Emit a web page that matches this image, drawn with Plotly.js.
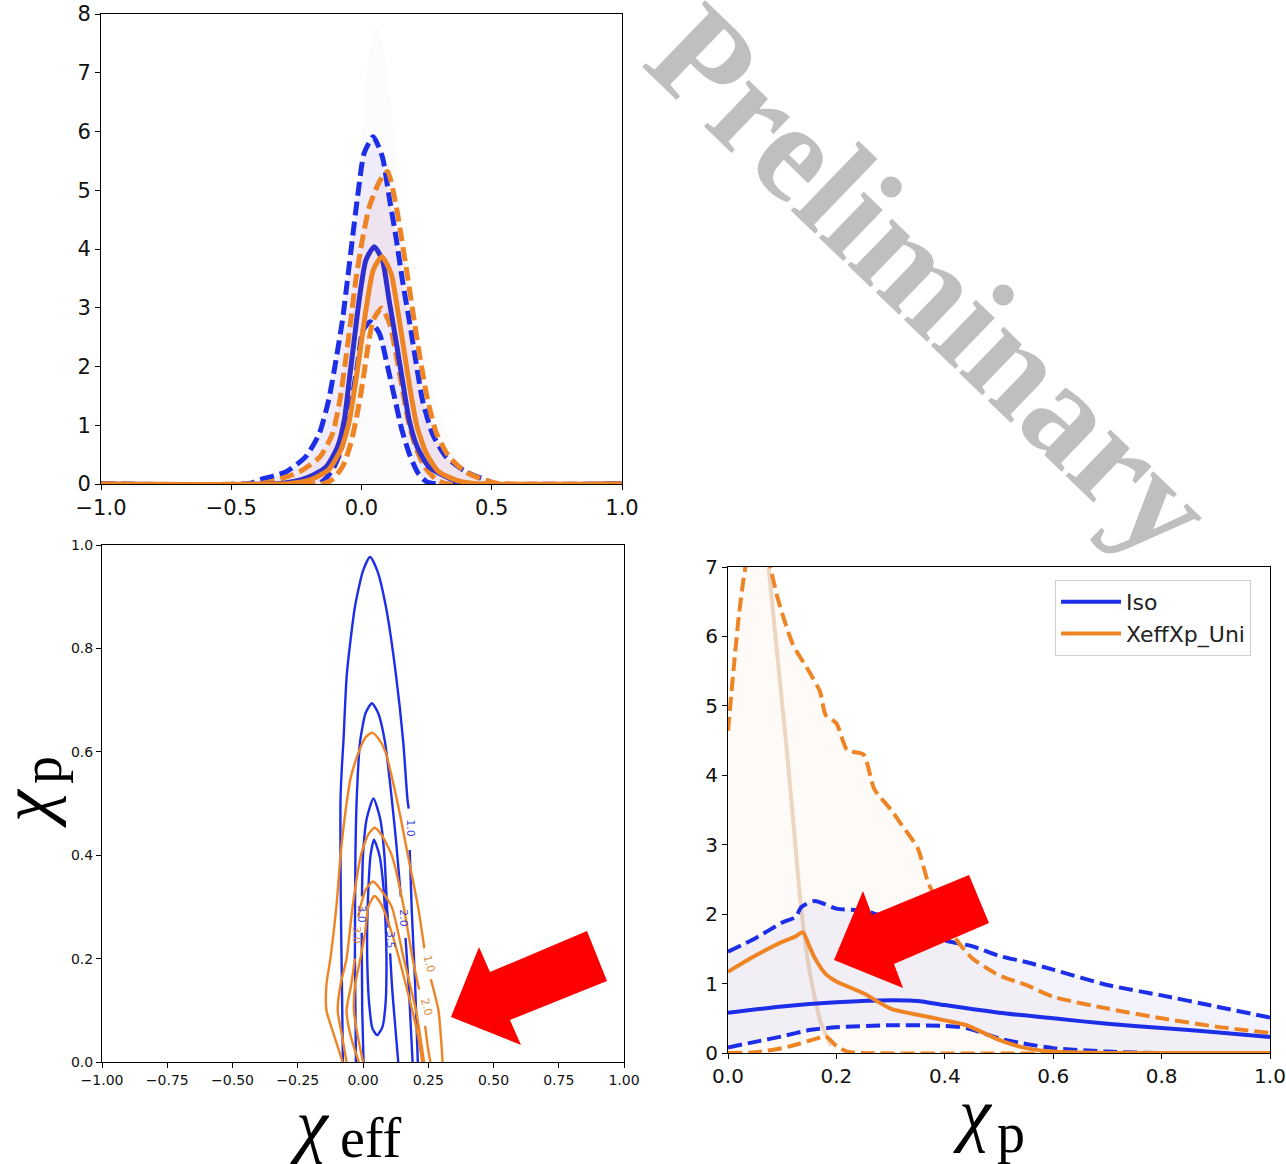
<!DOCTYPE html>
<html><head><meta charset="utf-8">
<script src="https://cdn.plot.ly/plotly-3.0.1.min.js"></script>
<style>html,body{margin:0;padding:0;background:#fff}#chart{width:1286px;height:1164px}</style>
</head><body><div id="chart"></div>
<script>
// ---------- Panel 1: chi_eff distributions ----------
const isoHiX = [-1, -0.43, -0.392, -0.289, -0.213, -0.162, -0.126, -0.098, -0.073, -0.054, -0.034, -0.015, 0.01, 0.045, 0.08, 0.106, 0.132, 0.157, 0.183, 0.208, 0.234, 0.272, 0.323, 0.40, 0.476, 0.51, 1];
const isoHiY = [0, 0.01, 0.07, 0.21, 0.47, 0.86, 1.43, 2.11, 2.79, 3.47, 4.21, 4.89, 5.63, 5.91, 5.57, 4.89, 4.21, 3.47, 2.79, 2.11, 1.43, 0.86, 0.47, 0.21, 0.07, 0.01, 0];
const isoMedX = [-1, -0.31, -0.213, -0.136, -0.092, -0.066, -0.047, -0.028, -0.009, 0.017, 0.049, 0.080, 0.106, 0.132, 0.157, 0.183, 0.214, 0.259, 0.336, 0.40, 1];
const isoMedY = [0, 0.01, 0.10, 0.29, 0.63, 1.09, 1.77, 2.45, 3.13, 3.81, 4.04, 3.81, 3.13, 2.45, 1.77, 1.09, 0.63, 0.29, 0.10, 0.01, 0];
const isoLoX = [-1, -0.166, -0.143, -0.111, -0.083, -0.056, -0.033, -0.013, 0.006, 0.034, 0.069, 0.10, 0.129, 0.155, 0.187, 0.218, 0.249, 0.273, 1];
const isoLoY = [0, 0.01, 0.07, 0.24, 0.52, 0.98, 1.54, 2.11, 2.62, 2.76, 2.56, 2.0, 1.43, 0.92, 0.47, 0.18, 0.04, 0.01, 0];
const uniMedX = [-1, -0.276, -0.197, -0.127, -0.08, -0.049, -0.025, -0.003, 0.019, 0.045, 0.078, 0.113, 0.139, 0.163, 0.187, 0.213, 0.249, 0.296, 0.367, 0.429, 1];
const uniMedY = [0, 0.01, 0.07, 0.24, 0.58, 1.03, 1.66, 2.34, 3.02, 3.64, 3.87, 3.59, 2.96, 2.28, 1.60, 0.98, 0.52, 0.21, 0.06, 0.01, 0];
const uniHiX = [-1, -0.386, -0.323, -0.237, -0.158, -0.111, -0.083, -0.061, -0.041, -0.022, 0.003, 0.03, 0.069, 0.10, 0.129, 0.155, 0.179, 0.202, 0.226, 0.254, 0.288, 0.335, 0.398, 0.476, 0.524, 1];
const uniHiY = [0, 0.01, 0.07, 0.21, 0.47, 0.86, 1.43, 2.11, 2.79, 3.47, 4.15, 4.72, 5.15, 5.32, 4.83, 4.15, 3.47, 2.79, 2.11, 1.43, 0.86, 0.47, 0.21, 0.06, 0.01, 0];
const uniLoX = [-1, -0.143, -0.111, -0.072, -0.041, -0.016, 0.006, 0.025, 0.045, 0.077, 0.108, 0.132, 0.155, 0.179, 0.207, 0.241, 0.281, 0.32, 1];
const uniLoY = [0, 0.01, 0.08, 0.30, 0.69, 1.20, 1.77, 2.34, 2.79, 2.99, 2.73, 2.22, 1.66, 1.09, 0.64, 0.30, 0.10, 0.01, 0];
// faint envelope of the posterior draws
const drawEnvX = [-0.5, -0.4, -0.3, -0.2, -0.1, -0.05, 0, 0.03, 0.06, 0.09, 0.12, 0.15, 0.2, 0.3, 0.4, 0.5];
const drawEnvY = [0, 0.1, 0.35, 0.8, 2.2, 4.0, 6.0, 7.3, 7.8, 7.3, 6.2, 4.8, 3.2, 1.2, 0.3, 0];

// ---------- Panel 2: 2D contours (chi_eff, chi_p) ----------
const isoC1X = [-0.077, -0.080, -0.085, -0.086, -0.081, -0.075, -0.062, -0.031, 0.0, 0.027, 0.055, 0.088, 0.126, 0.154, 0.170, 0.175, null, 0.179, 0.187, 0.199, 0.21];
const isoC1Y = [0, 0.12, 0.31, 0.51, 0.57, 0.62, 0.75, 0.88, 0.95, 0.977, 0.95, 0.88, 0.75, 0.62, 0.51, 0.49, null, 0.41, 0.29, 0.16, 0];
const isoC2X = [-0.027, -0.031, -0.029, -0.024, -0.011, 0.01, 0.034, 0.058, 0.084, 0.110, 0.128, 0.145, null, 0.163, 0.176, 0.19];
const isoC2Y = [0, 0.2, 0.4, 0.51, 0.62, 0.675, 0.694, 0.675, 0.62, 0.51, 0.42, 0.32, null, 0.24, 0.14, 0];
const isoC3X = [0.002, -0.003, -0.005, null, -0.004, 0.0, 0.014, 0.04, 0.066, 0.082, 0.092, 0.098, null, 0.104, 0.112, 0.125, 0.135];
const isoC3Y = [0, 0.1, 0.25, null, 0.32, 0.4, 0.47, 0.51, 0.47, 0.4, 0.3, 0.26, null, 0.21, 0.14, 0.06, 0];
const isoC4X = [0.042, 0.063, 0.078, 0.087, 0.09, 0.086, 0.074, 0.054, 0.036, 0.024, 0.017, 0.016, 0.021, 0.029, 0.042];
const isoC4Y = [0.43, 0.40, 0.34, 0.26, 0.18, 0.11, 0.067, 0.052, 0.065, 0.11, 0.18, 0.26, 0.34, 0.40, 0.43];
const uniC1X = [-0.078, -0.11, -0.14, -0.14, -0.125, -0.102, -0.086, -0.063, -0.047, -0.016, 0.01, 0.034, 0.06, 0.086, 0.133, 0.172, 0.211, 0.235, null, 0.26, 0.289, 0.305];
const uniC1Y = [0, 0.05, 0.1, 0.15, 0.2, 0.3, 0.4, 0.5, 0.55, 0.6, 0.628, 0.637, 0.625, 0.6, 0.5, 0.4, 0.3, 0.22, null, 0.16, 0.1, 0];
const uniC2X = [-0.063, -0.08, -0.097, -0.086, -0.063, -0.04, -0.008, 0.02, 0.044, 0.07, 0.11, 0.156, 0.19, 0.215, null, 0.238, 0.248, 0.258];
const uniC2Y = [0, 0.05, 0.1, 0.15, 0.2, 0.3, 0.4, 0.44, 0.453, 0.44, 0.4, 0.3, 0.2, 0.14, null, 0.07, 0.03, 0];
const uniC3X = [-0.016, -0.047, -0.063, -0.045, -0.031, null, -0.018, -0.01, 0.012, 0.039, 0.065, 0.11, 0.156, 0.203, 0.234];
const uniC3Y = [0, 0.05, 0.1, 0.15, 0.2, null, 0.28, 0.3, 0.335, 0.349, 0.335, 0.3, 0.2, 0.1, 0];
const uniC4X = [0.0, -0.02, -0.035, -0.03, -0.01, 0.008, 0.02, 0.044, 0.07, 0.11, 0.164, 0.211, 0.227];
const uniC4Y = [0, 0.05, 0.1, 0.15, 0.2, 0.25, 0.3, 0.321, 0.305, 0.25, 0.15, 0.05, 0];
const isoLabelText = ["1.0", "2.0", "3.5", "3.0"];
const isoLabelX = [0.184, 0.157, 0.103, -0.006];
const isoLabelY = [0.452, 0.278, 0.236, 0.285];
const uniLabelText = ["1.0", "2.0", "3.0"];
const uniLabelX = [0.252, 0.243, -0.026];
const uniLabelY = [0.19, 0.105, 0.245];

// ---------- Panel 3: chi_p distributions ----------
const isoMedPX = [0, 0.1, 0.2, 0.3, 0.35, 0.4, 0.5, 0.6, 0.7, 0.8, 0.9, 1.0];
const isoMedPY = [0.58, 0.67, 0.73, 0.76, 0.75, 0.69, 0.58, 0.50, 0.42, 0.36, 0.30, 0.23];
const isoHiPX = [0, 0.05, 0.1, 0.125, 0.135, 0.16, 0.2, 0.25, 0.3, 0.35, 0.4, 0.45, 0.5, 0.55, 0.6, 0.7, 0.8, 0.9, 1.0];
const isoHiPY = [1.46, 1.65, 1.88, 1.96, 2.1, 2.19, 2.08, 2.05, 1.93, 1.78, 1.62, 1.54, 1.40, 1.31, 1.20, 0.98, 0.83, 0.67, 0.51];
const isoLoPX = [0, 0.05, 0.1, 0.15, 0.2, 0.3, 0.4, 0.44, 0.5, 0.55, 0.6, 0.7, 0.8, 1.0];
const isoLoPY = [0.08, 0.16, 0.24, 0.33, 0.37, 0.40, 0.39, 0.36, 0.21, 0.13, 0.07, 0.02, 0.0, 0.0];
const uniMedPX = [0, 0.05, 0.1, 0.125, 0.138, 0.15, 0.16, 0.18, 0.2, 0.25, 0.3, 0.35, 0.4, 0.44, 0.5, 0.55, 0.6, 0.7, 1.0];
const uniMedPY = [1.17, 1.40, 1.60, 1.68, 1.74, 1.54, 1.37, 1.14, 1.03, 0.86, 0.64, 0.55, 0.47, 0.40, 0.19, 0.07, 0.02, 0, 0];
const uniHiPX = [0, 0.01, 0.02, 0.03, 0.04, 0.06, 0.075, 0.09, 0.1, 0.12, 0.15, 0.17, 0.18, 0.2, 0.22, 0.25, 0.27, 0.3, 0.32, 0.35, 0.37, 0.4, 0.42, 0.45, 0.5, 0.55, 0.6, 0.7, 0.8, 0.9, 1.0];
const uniHiPY = [4.64, 5.5, 6.3, 6.9, 7.3, 7.6, 7.1, 6.6, 6.33, 5.88, 5.49, 5.2, 4.87, 4.75, 4.36, 4.3, 3.8, 3.51, 3.29, 2.95, 2.44, 1.99, 1.65, 1.37, 1.12, 0.98, 0.81, 0.64, 0.50, 0.38, 0.29];
const uniLoPX = [0, 0.05, 0.1, 0.13, 0.16, 0.18, 0.2, 0.22, 0.25, 1.0];
const uniLoPY = [0, 0.01, 0.07, 0.13, 0.2, 0.24, 0.1, 0.02, 0, 0];
const ridgeX = [0.075, 0.09, 0.108, 0.122, 0.134, 0.15, 0.17, 0.19];
const ridgeY = [7, 5.8, 4.4, 3.2, 2.16, 1.2, 0.47, 0.1];

const legendNames = ["Iso", "XeffXp_Uni"];

// ---------- styling ----------
const BLUE = '#1c2ee8', BLUE_DK = '#2f2fcf', ORANGE = '#ee8424';
const DASH = '14px,6px';
function rev(a){ return a.slice().reverse(); }
function band(xh, yh, xl, yl, xa, ya, col){
  return {x: xh.concat(rev(xl)), y: yh.concat(rev(yl)), xaxis: xa, yaxis: ya, type: 'scatter', mode: 'lines',
    fill: 'toself', fillcolor: col, line: {width: 0, shape: 'spline', smoothing: 0.6}, hoverinfo: 'skip', showlegend: false};
}
function ln(x, y, xa, ya, col, w, dash, extra){
  return Object.assign({x: x, y: y, xaxis: xa, yaxis: ya, type: 'scatter', mode: 'lines',
    line: {color: col, width: w, dash: dash || 'solid', shape: 'spline', smoothing: 0.6}, showlegend: false}, extra || {});
}

const traces = [
  {x: drawEnvX, y: drawEnvY, xaxis: 'x', yaxis: 'y', type: 'scatter', mode: 'lines', fill: 'tozeroy',
   fillcolor: 'rgba(130,130,255,0.022)', line: {width: 0, shape: 'spline'}, showlegend: false, hoverinfo: 'skip'},
  band(isoHiX, isoHiY, isoLoX, isoLoY, 'x', 'y', 'rgba(100,80,230,0.09)'),
  band(uniHiX, uniHiY, uniLoX, uniLoY, 'x', 'y', 'rgba(236,130,60,0.08)'),
  ln(isoHiX, isoHiY, 'x', 'y', BLUE, 5, DASH),
  ln(isoLoX, isoLoY, 'x', 'y', BLUE, 5, DASH),
  ln(uniHiX, uniHiY, 'x', 'y', ORANGE, 5, DASH),
  ln(uniLoX, uniLoY, 'x', 'y', ORANGE, 5, DASH),
  ln(isoMedX, isoMedY, 'x', 'y', BLUE_DK, 5),
  ln(uniMedX, uniMedY, 'x', 'y', ORANGE, 5),
  ln(isoC1X, isoC1Y, 'x2', 'y2', BLUE, 2.4),
  ln(isoC2X, isoC2Y, 'x2', 'y2', BLUE, 2.4),
  ln(isoC3X, isoC3Y, 'x2', 'y2', BLUE, 2.4),
  ln(isoC4X, isoC4Y, 'x2', 'y2', BLUE, 2.4),
  ln(uniC1X, uniC1Y, 'x2', 'y2', ORANGE, 2.4),
  ln(uniC2X, uniC2Y, 'x2', 'y2', ORANGE, 2.4),
  ln(uniC3X, uniC3Y, 'x2', 'y2', ORANGE, 2.4),
  ln(uniC4X, uniC4Y, 'x2', 'y2', ORANGE, 2.4),
  band(uniHiPX, uniHiPY, uniLoPX, uniLoPY, 'x3', 'y3', 'rgba(236,140,50,0.04)'),
  band(isoHiPX, isoHiPY, isoLoPX, isoLoPY, 'x3', 'y3', 'rgba(70,80,230,0.07)'),
  ln(ridgeX, ridgeY, 'x3', 'y3', 'rgba(200,140,80,0.32)', 4),
  ln(isoHiPX, isoHiPY, 'x3', 'y3', BLUE, 4, DASH),
  ln(isoLoPX, isoLoPY, 'x3', 'y3', BLUE, 4, DASH),
  ln(uniHiPX, uniHiPY, 'x3', 'y3', ORANGE, 4, DASH),
  ln(uniLoPX, uniLoPY, 'x3', 'y3', ORANGE, 4, DASH),
  ln(isoMedPX, isoMedPY, 'x3', 'y3', BLUE, 4, null, {name: legendNames[0], showlegend: true}),
  ln(uniMedPX, uniMedPY, 'x3', 'y3', ORANGE, 4, null, {name: legendNames[1], showlegend: true})
];

const W = 1286, H = 1164;
function px(x){ return x / W; } function py(y){ return 1 - y / H; }
function axisBase(size){
  return {showline: true, mirror: true, linecolor: '#000', linewidth: 1, ticks: 'outside', ticklen: 5,
    tickcolor: '#000', tickwidth: 1, showgrid: false, zeroline: false, fixedrange: true,
    tickfont: {family: 'DejaVu Sans', size: size, color: '#111'}};
}

const annotations = [];
isoLabelText.forEach((t, i) => annotations.push({xref: 'x2', yref: 'y2', x: isoLabelX[i], y: isoLabelY[i], text: t,
  showarrow: false, textangle: 90, font: {family: 'DejaVu Sans', size: 11, color: '#3b45e0'}}));
uniLabelText.forEach((t, i) => annotations.push({xref: 'x2', yref: 'y2', x: uniLabelX[i], y: uniLabelY[i], text: t,
  showarrow: false, textangle: i < 2 ? 75 : 90, font: {family: 'DejaVu Sans', size: 11, color: '#e08a3a'}}));
function lab(x, y, t, size, italic, angle){
  annotations.push({xref: 'paper', yref: 'paper', x: px(x), y: py(y), text: t, showarrow: false, textangle: angle || 0,
    xanchor: 'center', yanchor: 'middle',
    font: {family: 'Liberation Serif', size: size, color: '#000', style: italic ? 'italic' : 'normal'}});
}
// axis labels (chi symbol + subscript)
lab(310, 1125, 'χ', 72, true);
lab(370, 1138, 'eff', 56, false);
lab(973, 1114, 'χ', 72, true);
lab(1011, 1133, 'p', 56, false);
lab(27, 808, 'χ', 72, true, -90);
lab(42, 770, 'p', 56, false, -90);
// watermark
annotations.push({xref: 'paper', yref: 'paper', x: px(932), y: py(280), text: 'Preliminary', showarrow: false, textangle: 44,
  xanchor: 'center', yanchor: 'middle',
  font: {family: 'Liberation Serif', size: 140, color: '#bfbfbf', weight: 'bold'}});

function arrowPath(pts){
  return 'M' + pts.map(p => px(p[0]).toFixed(5) + ',' + py(p[1]).toFixed(5)).join(' L') + ' Z';
}
const arrow1 = [[451,1017],[479,947],[490,972],[587,931],[607,981],[510,1020],[521,1045]];
const arrow2 = [[834,960],[863,891],[872,915],[969,875],[989,923],[894,964],[903,988]];
const shapes = [arrow1, arrow2].map(a => ({type: 'path', xref: 'paper', yref: 'paper', path: arrowPath(a),
  fillcolor: '#ff0000', line: {width: 0}, layer: 'above'}));

const layout = {
  width: W, height: H, margin: {l: 0, r: 0, t: 0, b: 0}, paper_bgcolor: '#fff', plot_bgcolor: '#fff',
  font: {family: 'DejaVu Sans', color: '#111'},
  xaxis: Object.assign(axisBase(21), {domain: [px(101), px(622)], range: [-1, 1], tickvals: [-1, -0.5, 0, 0.5, 1], tickformat: '.1f', anchor: 'y'}),
  yaxis: Object.assign(axisBase(21), {domain: [py(484), py(14)], range: [0, 8], dtick: 1, anchor: 'x'}),
  xaxis2: Object.assign(axisBase(14), {domain: [px(102), px(624)], range: [-1, 1], dtick: 0.25, tick0: 0, tickformat: '.2f', anchor: 'y2'}),
  yaxis2: Object.assign(axisBase(14), {domain: [py(1062), py(545)], range: [0, 1], dtick: 0.2, tick0: 0, tickformat: '.1f', anchor: 'x2'}),
  xaxis3: Object.assign(axisBase(20), {domain: [px(728), px(1270)], range: [0, 1], dtick: 0.2, tick0: 0, tickformat: '.1f', anchor: 'y3'}),
  yaxis3: Object.assign(axisBase(20), {domain: [py(1053), py(567)], range: [0, 7], dtick: 1, anchor: 'x3'}),
  showlegend: true,
  legend: {x: px(1055), y: py(580), xanchor: 'left', yanchor: 'top', bgcolor: 'rgba(255,255,255,0.85)',
    bordercolor: '#cfcfcf', borderwidth: 1, font: {family: 'DejaVu Sans', size: 22, color: '#222'}, itemwidth: 60, tracegroupgap: 0},
  annotations: annotations,
  shapes: shapes
};

Plotly.newPlot('chart', traces, layout, {displayModeBar: false, staticPlot: true});
</script></body></html>
